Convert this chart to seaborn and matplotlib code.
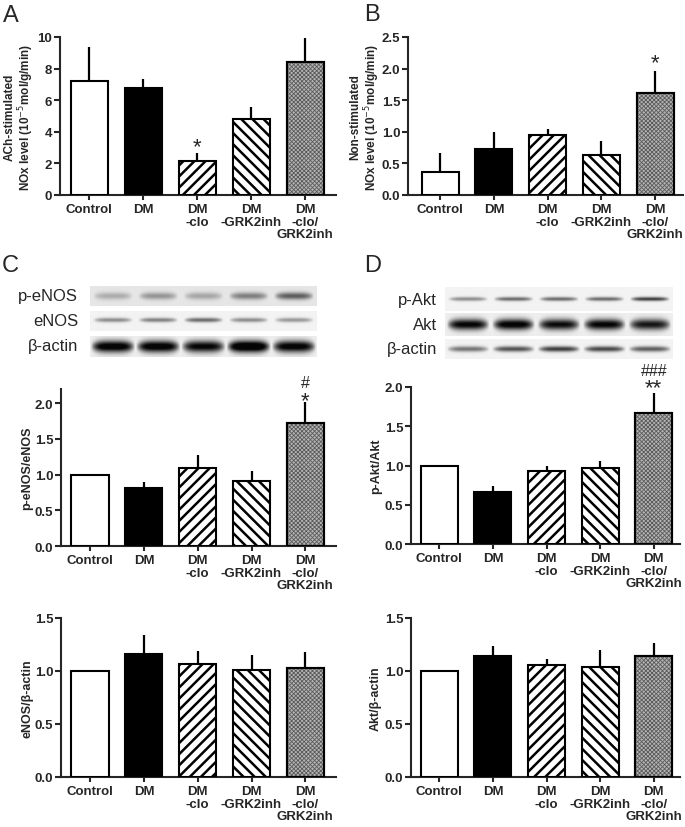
import numpy as np
import pandas as pd
import matplotlib
matplotlib.use("Agg")
import matplotlib.pyplot as plt
import seaborn as sns

# ---------------- data ----------------
groups = ["Control", "DM", "DM\n-clo", "DM\n-GRK2inh", "DM\n-clo/\nGRK2inh"]

a_mean = [7.19, 6.77, 2.14, 4.82, 8.41]
a_upper = [9.37, 7.36, 2.66, 5.56, 9.96]
b_mean = [0.365, 0.72, 0.95, 0.634, 1.62]
b_upper = [0.66, 0.99, 1.04, 0.856, 1.965]
c_mean = [1.0, 0.81, 1.09, 0.91, 1.73]
c_upper = [1.0, 0.90, 1.28, 1.05, 2.02]
c2_mean = [1.0, 1.16, 1.067, 1.01, 1.026]
c2_upper = [1.0, 1.336, 1.184, 1.153, 1.178]
d_mean = [1.0, 0.66, 0.936, 0.97, 1.67]
d_upper = [1.0, 0.745, 0.99, 1.055, 1.92]
d2_mean = [1.0, 1.14, 1.058, 1.036, 1.14]
d2_upper = [1.0, 1.235, 1.115, 1.194, 1.266]

# significance marks: (group index, y value, text, fontsize)
a_marks = [(2, 3.3, "*", 16)]
b_marks = [(4, 2.14, "*", 16)]
c_marks = [(4, 2.09, "*", 16), (4, 2.31, "#", 11.5)]
d_marks = [(4, 2.03, "**", 16), (4, 2.23, "###", 11.5)]

# western blot band darkness per lane
blot_peNOS = [0.25, 0.35, 0.28, 0.45, 0.6]
blot_eNOS = [0.45, 0.5, 0.6, 0.45, 0.4]
blot_actin_c = [1.15, 1.15, 1.05, 1.3, 1.1]
blot_pAkt = [0.45, 0.6, 0.6, 0.6, 0.8]
blot_Akt = [1.05, 1.1, 1.0, 1.05, 0.95]
blot_actin_d = [0.55, 0.7, 0.8, 0.75, 0.65]

# ---------------- style ----------------
sns.set_style("ticks")
plt.rcParams["font.family"] = ["Liberation Sans", "DejaVu Sans"]
plt.rcParams["hatch.linewidth"] = 1.8

W, H = 685, 828
fig = plt.figure(figsize=(W / 100, H / 100), dpi=100)


def add_ax(l, t, r, b):
    return fig.add_axes([l / W, 1 - b / H, (r - l) / W, (b - t) / H])


face_styles = [("white", ""), ("black", ""), ("white", "///"), ("white", "\\\\\\"), ("#b4b4b4", "")]


def bar_panel(ax, means, uppers, ylim, yticks, fmt, ylabel, label_x, xlim, marks, lab_fs=9):
    df = pd.DataFrame({"group": groups, "value": means})
    sns.barplot(data=df, x="group", y="value", order=groups, ax=ax, width=0.69,
                color="white", saturation=1, errorbar=None, zorder=3)
    for p, (fc, h) in zip(ax.patches, face_styles):
        p.set_facecolor(fc)
        p.set_edgecolor("black")
        p.set_linewidth(1.5)
        p.set_hatch(h)
    pos = np.arange(len(groups))
    # fine dotted texture for the combination group
    with plt.rc_context({"hatch.linewidth": 0.6}):
        ov = ax.bar(pos[-1:], means[-1:], width=0.69, facecolor="none", edgecolor="#5a5a5a",
                    linewidth=0, hatch="xxxxxxxx", zorder=3.5)
        for p in ov:
            if hasattr(p, "set_hatch_linewidth"):
                p.set_hatch_linewidth(0.6)
    ax.bar(pos[-1:], means[-1:], width=0.69, fill=False, edgecolor="black", linewidth=1.5, zorder=4)
    m = np.array(means)
    u = np.array(uppers)
    ax.errorbar(pos, m, yerr=[np.zeros_like(m), u - m], fmt="none", ecolor="black",
                elinewidth=1.6, capsize=0, zorder=2)
    for gi, yv, txt, fs in marks:
        off = -0.4 * fs if txt.startswith("*") else -0.36 * fs
        ax.annotate(txt, xy=(pos[gi], yv), xytext=(0, off), textcoords="offset points",
                    ha="center", va="baseline", fontsize=fs, annotation_clip=False)
    ax.set_ylim(*ylim)
    ax.set_xlim(*xlim)
    ax.set_yticks(yticks)
    ax.set_yticklabels([fmt.format(v) for v in yticks], fontsize=9.5, fontweight="bold")
    ax.set_xticks(pos)
    ax.set_xticklabels(groups, fontsize=9.5, fontweight="bold", linespacing=1.1)
    ax.set_xlabel("")
    ax.set_ylabel(ylabel, fontsize=lab_fs, fontweight="bold", linespacing=1.05)
    ax.yaxis.set_label_coords(label_x, 0.5)
    for s in ["top", "right"]:
        ax.spines[s].set_visible(False)
    for s in ["left", "bottom"]:
        ax.spines[s].set_linewidth(1.5)
    ax.tick_params(axis="y", length=4, width=1.5, pad=1.5)
    ax.tick_params(axis="x", length=3.5, width=1.5, pad=2)


def draw_blot(ax, intens, sigma, ycen=0.5, bg=0.93, hwf=0.44):
    Hh, Ww = 60, 300
    yy = np.linspace(0, 1, Hh)[:, None]
    xx = np.linspace(0, 1, Ww)[None, :]
    img = np.full((Hh, Ww), bg)
    n = len(intens)
    for i, d in enumerate(intens):
        cx = (i + 0.5) / n
        hw = hwf / n
        xprof = np.clip(1 - ((xx - cx) / hw) ** 4, 0, 1)
        yprof = np.exp(-0.5 * ((yy - ycen) / (sigma * (0.6 + 0.4 * xprof))) ** 2)
        img = img - d * 0.9 * xprof * yprof
    img = np.clip(img, 0.02, 1)
    ax.imshow(img, cmap="gray", vmin=0, vmax=1, aspect="auto", interpolation="bilinear")
    ax.set_axis_off()


# ---------------- panel A ----------------
axA = add_ax(60, 38, 336, 196)
bar_panel(axA, a_mean, a_upper, (0, 10), [0, 2, 4, 6, 8, 10], "{:.0f}",
          "ACh-stimulated\nNOx level (10$^{-5}$mol/g/min)", -0.087, (-0.54, 4.57), a_marks,
          lab_fs=8.5)

# ---------------- panel B ----------------
axB = add_ax(408, 38, 683, 196)
bar_panel(axB, b_mean, b_upper, (0, 2.5), [0, 0.5, 1.0, 1.5, 2.0, 2.5], "{:.1f}",
          "Non-stimulated\nNOx level (10$^{-5}$mol/g/min)", -0.095, (-0.6, 4.52), b_marks,
          lab_fs=8.5)

# ---------------- panel C ----------------
axC = add_ax(61, 390, 336, 547)
bar_panel(axC, c_mean, c_upper, (0, 2.2), [0, 0.5, 1.0, 1.5, 2.0], "{:.1f}",
          "p-eNOS/eNOS", -0.1, (-0.54, 4.57), c_marks)
axC2 = add_ax(61, 619, 336, 778)
bar_panel(axC2, c2_mean, c2_upper, (0, 1.5), [0, 0.5, 1.0, 1.5], "{:.1f}",
          "eNOS/β-actin", -0.1, (-0.54, 4.57), [])

# ---------------- panel D ----------------
axD = add_ax(411, 388, 680, 545)
bar_panel(axD, d_mean, d_upper, (0, 2.0), [0, 0.5, 1.0, 1.5, 2.0], "{:.1f}",
          "p-Akt/Akt", -0.108, (-0.53, 4.49), d_marks)
axD2 = add_ax(411, 619, 680, 778)
bar_panel(axD2, d2_mean, d2_upper, (0, 1.5), [0, 0.5, 1.0, 1.5], "{:.1f}",
          "Akt/β-actin", -0.108, (-0.53, 4.49), [])

# ---------------- western blots ----------------
blC1 = add_ax(90, 287, 317, 307); draw_blot(blC1, blot_peNOS, 0.13, bg=0.9)
blC2 = add_ax(90, 312, 317, 332); draw_blot(blC2, blot_eNOS, 0.08, ycen=0.45, bg=0.95)
blC3 = add_ax(90, 337, 317, 358); draw_blot(blC3, blot_actin_c, 0.2, bg=0.93, hwf=0.49)
blD1 = add_ax(445, 288, 673, 312); draw_blot(blD1, blot_pAkt, 0.06, bg=0.95)
blD2 = add_ax(445, 314, 673, 337); draw_blot(blD2, blot_Akt, 0.17, bg=0.93, hwf=0.47)
blD3 = add_ax(445, 340, 673, 360); draw_blot(blD3, blot_actin_d, 0.1, bg=0.95, hwf=0.47)

for txt, x, y in [("p-eNOS", 78, 297), ("eNOS", 78, 322), ("β-actin", 78, 347),
                  ("p-Akt", 437, 300), ("Akt", 437, 326), ("β-actin", 437, 350)]:
    fig.text(x / W, 1 - y / H, txt, ha="right", va="center", fontsize=12)

# ---------------- panel letters ----------------
for txt, x, y in [("A", 3, 22), ("B", 364, 21), ("C", 2, 272), ("D", 364, 272)]:
    fig.text(x / W, 1 - y / H, txt, ha="left", va="baseline", fontsize=17)

fig.savefig("out.png", dpi=100)
